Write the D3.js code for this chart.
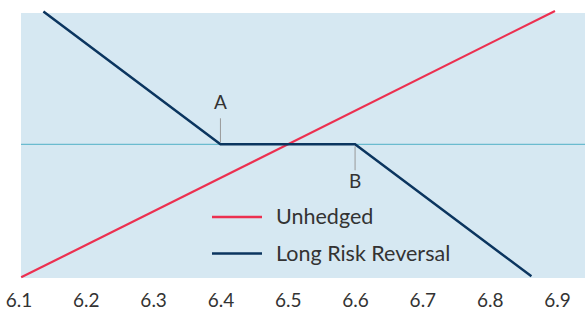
<!DOCTYPE html>
<html>
<head>
<meta charset="utf-8">
<script src="https://cdn.jsdelivr.net/npm/d3@7"></script>
<style>
  body { margin: 0; background: #fff; }
  text { font-family: Lato, sans-serif; fill: #333; }
</style>
</head>
<body>
<div id="chart"></div>
<script>
// spot rate ticks
const ticks = [6.1, 6.2, 6.3, 6.4, 6.5, 6.6, 6.7, 6.8, 6.9];

// payoff lines (x = spot, y = profit)
const unhedged = [[6.104, -3.96], [6.897, 3.97]];
const riskReversal = [[6.137, 3.95], [6.4, 0], [6.6, 0], [6.862, -3.93]];

const legendItems = [
  { name: "Unhedged", color: "#ec3050" },
  { name: "Long Risk Reversal", color: "#0b355f" }
];

const notes = [
  { label: "A", x: 6.4, dir: -1 },
  { label: "B", x: 6.6, dir: 1 }
];

const width = 585, height = 309;

const svg = d3.select("#chart").append("svg")
  .attr("width", width)
  .attr("height", height);

const x = d3.scaleLinear().domain([6.1, 6.9]).range([18.5, 557]);
const y = d3.scaleLinear().domain([-4, 4]).range([278.7, 9.9]);

// plot background
svg.append("rect")
  .attr("x", 21).attr("y", 13)
  .attr("width", width - 21).attr("height", 265)
  .attr("fill", "#d6e8f2");

// zero line
svg.append("line")
  .attr("x1", 21).attr("x2", width)
  .attr("y1", y(0)).attr("y2", y(0))
  .attr("stroke", "#4fb0c6").attr("stroke-width", 1);

// A / B markers
notes.forEach(n => {
  const y0 = y(0);
  svg.append("line")
    .attr("x1", x(n.x)).attr("x2", x(n.x))
    .attr("y1", y0 + n.dir * 2).attr("y2", y0 + n.dir * 26)
    .attr("stroke", "#999").attr("stroke-width", 1);
  svg.append("text")
    .attr("x", x(n.x))
    .attr("y", n.dir < 0 ? y0 - 35 : y0 + 44)
    .attr("text-anchor", "middle")
    .attr("font-size", 19)
    .text(n.label);
});

const line = d3.line().x(d => x(d[0])).y(d => y(d[1]));

svg.append("path")
  .datum(unhedged)
  .attr("d", line)
  .attr("fill", "none")
  .attr("stroke", legendItems[0].color)
  .attr("stroke-width", 2.2);

svg.append("path")
  .datum(riskReversal)
  .attr("d", line)
  .attr("fill", "none")
  .attr("stroke", legendItems[1].color)
  .attr("stroke-width", 2.5);

// x axis labels
const xAxis = d3.axisBottom(x).tickValues(ticks).tickSize(0).tickPadding(0)
  .tickFormat(d3.format(".1f"));
const gx = svg.append("g").attr("transform", "translate(0,306.5)").call(xAxis);
gx.select(".domain").remove();
gx.selectAll("text")
  .attr("font-size", 19)
  .attr("dy", 0)
  .style("font-family", "Lato, sans-serif")
  .attr("fill", "#333");

// legend
const lg = svg.append("g").attr("transform", "translate(212,217)");
legendItems.forEach((d, i) => {
  const row = lg.append("g").attr("transform", `translate(0,${i * 36.6})`);
  row.append("line")
    .attr("x1", 0).attr("x2", 50)
    .attr("stroke", d.color).attr("stroke-width", 2.5);
  row.append("text")
    .attr("x", 64).attr("y", 7)
    .attr("font-size", 21.5)
    .text(d.name);
});
</script>
</body>
</html>
